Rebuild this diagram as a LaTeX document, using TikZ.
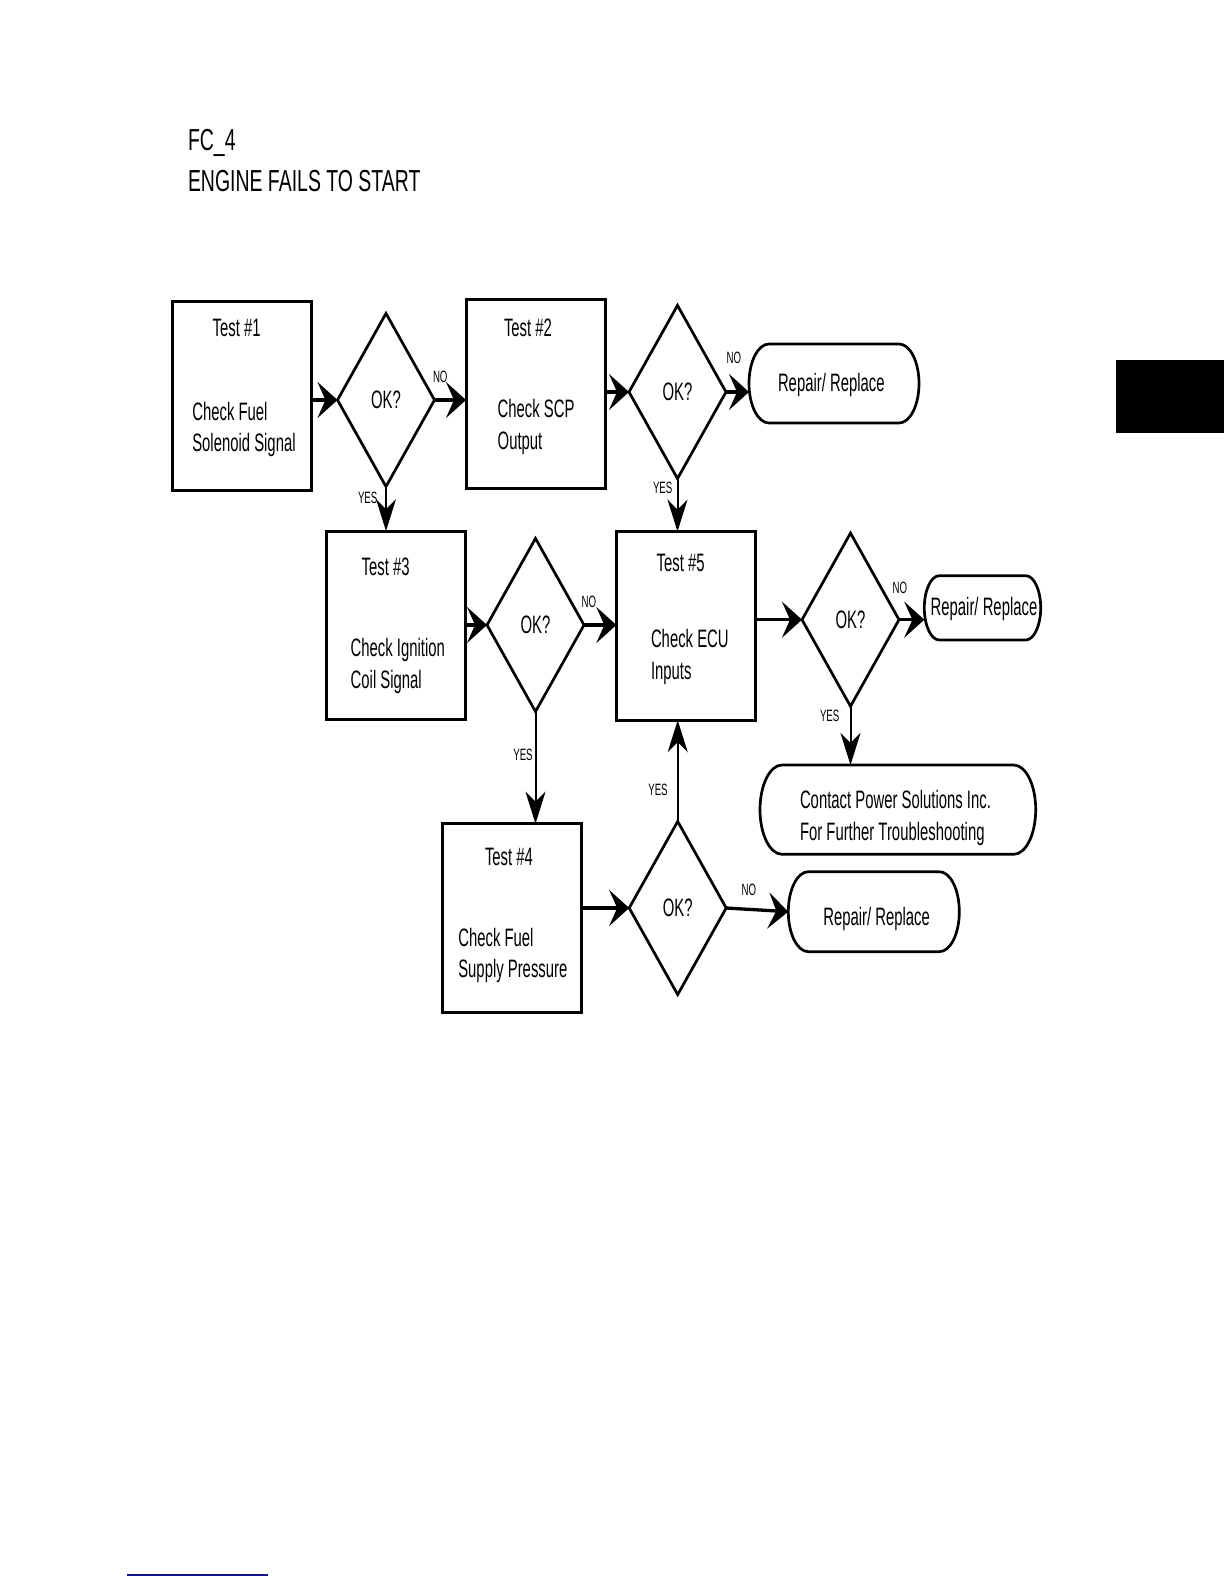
\documentclass[tikz,border=0pt]{standalone}
\usepackage{fontspec}
\setmainfont{Liberation Sans}[FakeStretch=0.59]
\newfontfamily\titlefont{Liberation Sans}[FakeStretch=0.64]
\usetikzlibrary{shapes.geometric,arrows.meta}
\definecolor{navyline}{RGB}{20,20,140}
\newcommand{\termoutline}[3]{%
  \draw[termline] ([xshift=#2]#1.north west) -- ([xshift=-#2]#1.north east)
    arc[start angle=90,end angle=-90,x radius=#2,y radius=#3]
    -- ([xshift=#2]#1.south west)
    arc[start angle=270,end angle=90,x radius=#2,y radius=#3] -- cycle;}
\begin{document}
\begin{tikzpicture}[x=0.5pt,y=-0.5pt,
  every node/.style={inner sep=0pt,outer sep=0pt},
  testbox/.style={draw,line width=1.5pt,minimum width=69.5pt,minimum height=94.3pt},
  decision/.style={draw,diamond,line width=1.35pt,minimum width=48.5pt,minimum height=86.6pt,font=\fontsize{12.6}{14}\selectfont},
  terminal/.style={rectangle},
  termline/.style={line width=1.35pt},
  txt/.style={anchor=base west,font=\fontsize{12.6}{14}\selectfont},
  lbl/.style={anchor=base west,font=\fontsize{8.2}{9}\selectfont},
  ttl/.style={anchor=base west,font=\titlefont\fontsize{15.2}{17}\selectfont},
  harrow/.style={line width=1.65pt,-{Stealth[length=10pt,width=18pt,inset=4pt]}},
  varrow/.style={line width=1pt,-{Stealth[length=16pt,width=10pt,inset=5pt]}},
]
\useasboundingbox (0,0) rectangle (1224,1584);

% title
\node[ttl] (title1) at (188,150) {FC\_4};
\node[ttl] (title2) at (188,191.7) {ENGINE FAILS TO START};

% side tab and footer line
\fill (1116,360) rectangle (1224,433);
\draw[navyline,line width=1pt] (127,1575) -- (268,1575);

% boxes
\node[testbox] (b1) at (242.35,396) {};
\node[testbox] (b2) at (535.5,394) {};
\node[testbox] (b3) at (395.5,625.35) {};
\node[testbox] (b5) at (685.85,625.85) {};
\node[testbox] (b4) at (512.2,918) {};

% decisions
\node[decision] (d1) at (386,400) {OK?};
\node[decision] (d2) at (677.5,392) {OK?};
\node[decision] (d3) at (535.5,625) {OK?};
\node[decision] (d4) at (850.5,619.7) {OK?};
\node[decision] (d5) at (677.7,908) {OK?};

% terminals
\node[terminal,minimum width=85pt,minimum height=39.5pt] (r1) at (834,383.5) {};
\node[terminal,minimum width=58.2pt,minimum height=32.15pt] (r2) at (982.5,607.85) {};
\node[terminal,minimum width=137.85pt,minimum height=44.65pt] (r3) at (897.85,809.65) {};
\node[terminal,minimum width=85.5pt,minimum height=40pt] (r4) at (873.8,911.7) {};
\termoutline{r1}{10pt}{19.75pt}
\termoutline{r2}{7.5pt}{16.075pt}
\termoutline{r3}{11pt}{22.325pt}
\termoutline{r4}{10pt}{20pt}

% box texts
\node[txt] (b1t) at (212.7,336.7) {Test \#1};
\node[txt] (b1a) at (192.3,420) {Check Fuel};
\node[txt] (b1b) at (192.3,451.7) {Solenoid Signal};
\node[txt] (b2t) at (504,336) {Test \#2};
\node[txt] (b2a) at (497.7,417.3) {Check SCP};
\node[txt] (b2b) at (497.7,449) {Output};
\node[txt] (b3t) at (361.7,575) {Test \#3};
\node[txt] (b3a) at (350.7,656.7) {Check Ignition};
\node[txt] (b3b) at (350.7,688.5) {Coil Signal};
\node[txt] (b5t) at (656.7,571.7) {Test \#5};
\node[txt] (b5a) at (651,647.3) {Check ECU};
\node[txt] (b5b) at (651,679) {Inputs};
\node[txt] (b4t) at (485,865.7) {Test \#4};
\node[txt] (b4a) at (458.3,946) {Check Fuel};
\node[txt] (b4b) at (458.3,977) {Supply Pressure};

% terminal texts
\node[txt] (r1t) at (778,391.7) {Repair/ Replace};
\node[txt] (r2t) at (930.7,615) {Repair/ Replace};
\node[txt] (r3a) at (800,808.3) {Contact Power Solutions Inc.};
\node[txt] (r3b) at (800,840) {For Further Troubleshooting};
\node[txt] (r4t) at (823.3,925) {Repair/ Replace};

% connectors
\draw[harrow] (b1.east |- d1.west) -- (d1.west);
\draw[harrow] (d1.east) -- (d1.east -| b2.west);
\draw[harrow] (b2.east |- d2.west) -- (d2.west);
\draw[harrow] (d2.east) -- (d2.east -| r1.west);
\draw[varrow] (d1.south) -- (d1.south |- b3.north);
\draw[varrow] (d2.south) -- (d2.south |- b5.north);
\draw[harrow] (b3.east |- d3.west) -- (d3.west);
\draw[harrow] (d3.east) -- (d3.east -| b5.west);
\draw[harrow] (b5.east |- d4.west) -- (d4.west);
\draw[harrow] (d4.east) -- (d4.east -| r2.west);
\draw[varrow] (d4.south) -- (d4.south |- r3.north);
\draw[varrow] (d3.south) -- (d3.south |- b4.north);
\draw[harrow] (b4.east |- d5.west) -- (d5.west);
\draw[varrow] (d5.north) -- (d5.north |- b5.south);
\draw[harrow] (d5.east) -- (r4.west);

% labels
\node[lbl] (n1) at (433,382) {NO};
\node[lbl] (n2) at (726.7,363.3) {NO};
\node[lbl] (n3) at (581.7,607) {NO};
\node[lbl] (n4) at (892.7,593.3) {NO};
\node[lbl] (n5) at (741.7,895) {NO};
\node[lbl] (y1) at (358,503) {YES};
\node[lbl] (y2) at (653,493) {YES};
\node[lbl] (y3) at (513.3,760) {YES};
\node[lbl] (y4) at (820,721.7) {YES};
\node[lbl] (y5) at (648.3,795) {YES};
\end{tikzpicture}
\end{document}
